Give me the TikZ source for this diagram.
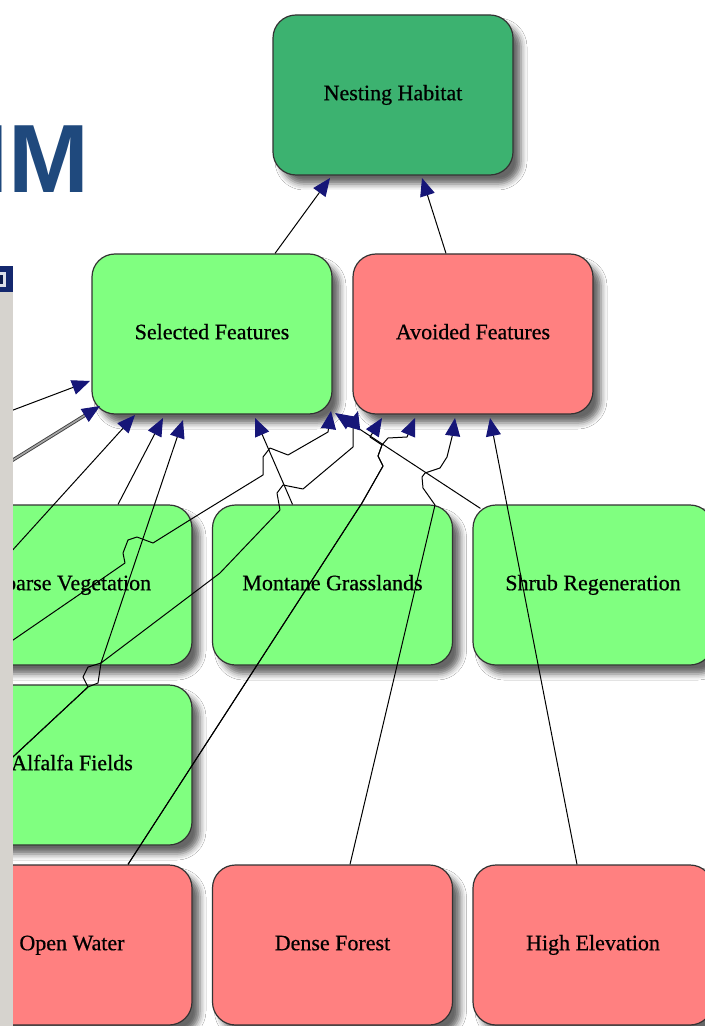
\documentclass[tikz,border=0pt]{standalone}
\usepackage{fontspec}
\setmainfont{Liberation Serif}
\newfontfamily\titlefont{Liberation Sans}
\newfontfamily\boxfont{Liberation Serif}[FakeBold=0.6]
\usetikzlibrary{arrows.meta,shadows.blur,calc}
\definecolor{nestgreen}{RGB}{60,178,112}
\definecolor{selgreen}{RGB}{128,255,128}
\definecolor{avoidred}{RGB}{255,128,128}
\definecolor{arrowblue}{RGB}{22,22,120}
\definecolor{titleblue}{RGB}{31,73,125}
\definecolor{wingrey}{RGB}{214,211,206}
\definecolor{winblue}{RGB}{20,40,110}
\begin{document}
\begin{tikzpicture}[x=0.5pt,y=-0.5pt,
  box/.style={draw=black!80, line width=0.6pt, rounded corners=11.5pt,
    minimum width=120pt, minimum height=80pt, inner sep=0pt,
    text height=7.6pt, text depth=2.4pt,
    font=\boxfont\fontsize{11}{13}\selectfont,
    blur shadow={shadow xshift=4pt,shadow yshift=-4.5pt,shadow opacity=60,shadow blur radius=3pt}},
  link/.style={draw=black, line width=0.5pt, line join=round,
    -{Triangle[length=9pt,width=7.5pt,color=arrowblue]}},
  twin/.style={draw=black!75, line width=0.45pt, double=black!35, double distance=0.8pt,
    -{Triangle[length=9pt,width=7.5pt,color=arrowblue]}},
  plain/.style={draw=black, line width=0.5pt, line join=round}]
\useasboundingbox (0,0) rectangle (705,1026);
\fill[white] (0,0) rectangle (705,1026);

% title fragment
\node[anchor=base east, inner sep=0pt, text=titleblue,
  font=\titlefont\bfseries\fontsize{48.5}{50}\selectfont] (title) at (90,193) {IM};

% nodes
\node[box, fill=nestgreen] (nh) at (393,95) {Nesting Habitat};
\node[box, fill=selgreen] (sf) at (212,334) {Selected Features};
\node[box, fill=avoidred] (af) at (473,334) {Avoided Features};
\node[box, fill=selgreen] (sv) at (72,585) {Sparse Vegetation};
\node[box, fill=selgreen] (mg) at (332.5,585) {Montane Grasslands};
\node[box, fill=selgreen] (sr) at (593,585) {Shrub Regeneration};
\node[box, fill=selgreen] (al) at (72,765) {Alfalfa Fields};
\node[box, fill=avoidred] (ow) at (72,945) {Open Water};
\node[box, fill=avoidred] (df) at (332.5,945) {Dense Forest};
\node[box, fill=avoidred] (he) at (593,945) {High Elevation};

% arrow tip points
\coordinate (nh-a) at (330,178);
\coordinate (nh-b) at (422,178);
\coordinate (sf-1) at (90,381);
\coordinate (sf-2) at (100,406);
\coordinate (sf-3) at (135,415);
\coordinate (sf-4) at (163,418);
\coordinate (sf-5) at (183,420);
\coordinate (sf-6) at (255,418);
\coordinate (sf-7) at (331,411);
\coordinate (sf-8) at (335,413);
\coordinate (af-1) at (358,411);
\coordinate (af-2) at (382,418);
\coordinate (af-3) at (415,418);
\coordinate (af-4) at (455,418);
\coordinate (af-5) at (490,418);
% sources outside the visible area
\coordinate (srcA) at (0,415);
\coordinate (srcB) at (0,468);
\coordinate (srcC) at (0,564);
\coordinate (srcD) at (0,649);
\coordinate (srcE) at (0,769);

% edges to Nesting Habitat
\draw[link] ($(sf.north)+(63,0)$) -- (nh-a);
\draw[link] ($(af.north)+(-27,0)$) -- (nh-b);

% edges to Selected Features
\draw[link] (srcA) -- (sf-1);
\draw[twin] (srcB) -- (sf-2);
\draw[link] (srcC) -- (sf-3);
\draw[link] ($(sv.north)+(46,0)$) -- (sf-4);
\draw[link] (srcE) -- (88,687) -- (83,677) -- (88,667) -- (101,663) -- (sf-5);
\draw[link] ($(mg.north)+(-40,0)$) -- (sf-6);
\draw[link] (srcD) -- (83,592) -- (125,563) -- (123,553) -- (128,540) -- (137,537)
  -- (153,543) -- (193,518) -- (263,475) -- (263,457) -- (270,448) -- (288,455)
  -- (328,432) -- (sf-7);
\draw[link] ($(sr.north west)+(8,4)$) -- (sf-8);

% edges to Avoided Features
\draw[link] (srcE) -- (88,687) -- (98,683) -- (101,663) -- (220,573) -- (280,510)
  -- (277,493) -- (283,485) -- (303,489) -- (353,447) -- (353,428) -- (af-1);
\draw[link] ($(ow.north)+(56,0)$) -- (362,503) -- (383,466) -- (378,456) -- (382,445)
  -- (370,437) -- (af-2);
\draw[link] ($(ow.north)+(56,0)$) -- (362,503) -- (383,466) -- (378,456) -- (382,445)
  -- (388,438) -- (407,437) -- (af-3);
\draw[link] ($(df.north)+(17.5,0)$) -- (435,505) -- (423,488) -- (422,477) -- (425,473)
  -- (440,468) -- (447,457) -- (453,433) -- (af-4);
\draw[link] ($(he.north)+(-16,0)$) -- (af-5);

% window sliver at the left edge
\fill[wingrey] (0,292) rectangle (13,1026);
\fill[winblue] (0,266) rectangle (13,292);
\fill[white!85!winblue] (0,272) rectangle (6,287);
\fill[winblue!70!black] (0,275) rectangle (3,284);
\end{tikzpicture}
\end{document}
